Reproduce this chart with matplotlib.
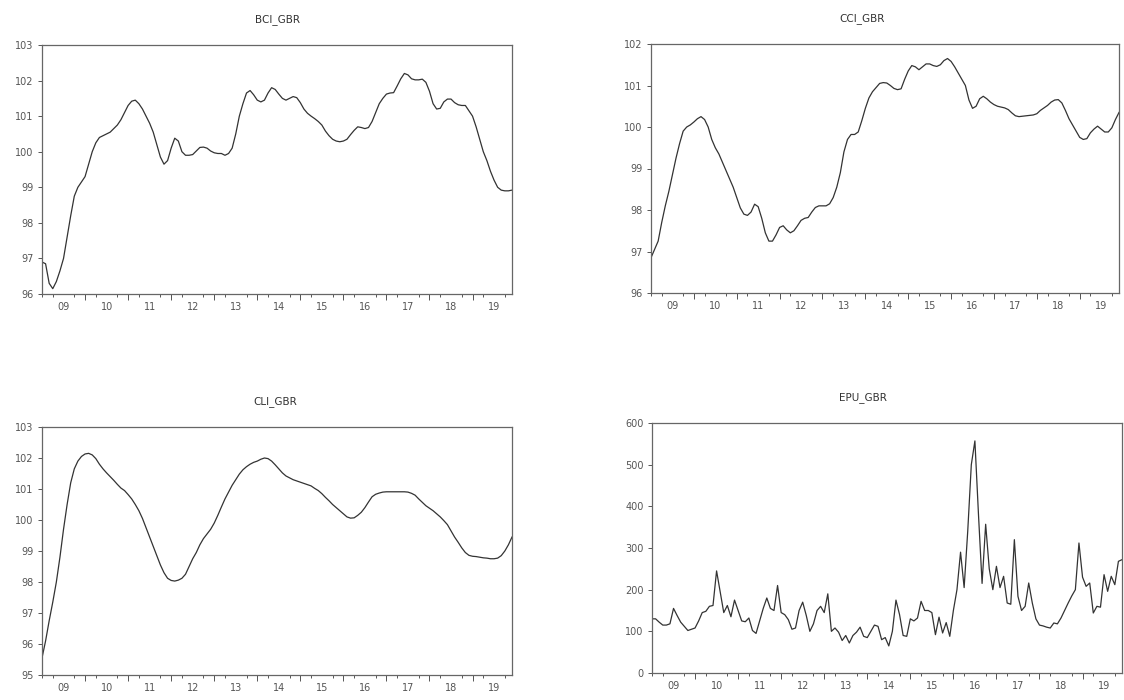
import matplotlib as mpl
mpl.use('Agg')
import matplotlib.pyplot as plt
import numpy as np

# monthly observations 2009M01 - 2019M12
bci_gbr = [
    96.9, 96.85, 96.3, 96.15, 96.35, 96.65, 97.0, 97.6, 98.2, 98.75, 99.0, 99.15,
    99.3, 99.65, 100.0, 100.25, 100.4, 100.45, 100.5, 100.55, 100.65, 100.75, 100.9, 101.1,
    101.3, 101.42, 101.45, 101.35, 101.2, 101.0, 100.8, 100.55, 100.2, 99.85, 99.65, 99.75,
    100.1, 100.38, 100.3, 100.0, 99.9, 99.9, 99.92, 100.02, 100.12, 100.13, 100.1, 100.02,
    99.97, 99.95, 99.95, 99.9, 99.95, 100.1, 100.5, 101.0, 101.35, 101.65, 101.72, 101.6,
    101.45, 101.4, 101.45, 101.65, 101.8, 101.75, 101.62, 101.5, 101.45, 101.5, 101.55, 101.52,
    101.38, 101.2, 101.08, 101.0, 100.93, 100.85, 100.75, 100.58, 100.45, 100.35, 100.3, 100.28,
    100.3, 100.35, 100.48, 100.6, 100.7, 100.68, 100.65, 100.68, 100.85, 101.1, 101.35, 101.5,
    101.62, 101.65, 101.66, 101.85, 102.05, 102.2, 102.16, 102.05, 102.02, 102.02, 102.04, 101.95,
    101.7, 101.35, 101.2, 101.22, 101.4, 101.48, 101.48, 101.38, 101.32, 101.3, 101.3, 101.15,
    101.0, 100.7, 100.35, 100.0, 99.75, 99.45, 99.2, 99.0, 98.92, 98.9, 98.9, 98.92,
]

cci_gbr = [
    96.85, 97.05, 97.25, 97.7, 98.1, 98.45, 98.85, 99.25, 99.6, 99.9, 100.0, 100.05,
    100.12, 100.2, 100.25, 100.18, 100.0, 99.7, 99.5, 99.35, 99.15, 98.95, 98.75, 98.55,
    98.3, 98.05, 97.9, 97.87, 97.95, 98.14, 98.08, 97.8, 97.45, 97.25, 97.25, 97.4,
    97.58, 97.62, 97.52, 97.45, 97.5, 97.62, 97.75, 97.8, 97.82, 97.95, 98.06, 98.1,
    98.1, 98.1, 98.15, 98.3, 98.55, 98.9, 99.4, 99.7, 99.82, 99.82, 99.88, 100.15,
    100.45, 100.7, 100.85, 100.95, 101.05, 101.07, 101.06, 101.0, 100.93, 100.9, 100.92, 101.15,
    101.35, 101.48, 101.45, 101.38, 101.45, 101.52, 101.52, 101.48, 101.46, 101.5, 101.6, 101.65,
    101.58, 101.45, 101.3, 101.15, 101.0, 100.65, 100.45, 100.5, 100.68, 100.74, 100.68, 100.6,
    100.54, 100.5, 100.48, 100.46, 100.42, 100.34, 100.27, 100.25, 100.26, 100.27, 100.28, 100.29,
    100.32, 100.4, 100.46, 100.52, 100.6, 100.65, 100.66, 100.58, 100.4, 100.2, 100.05, 99.9,
    99.75, 99.7, 99.72, 99.86, 99.95, 100.02, 99.95, 99.88, 99.88, 99.98, 100.18, 100.35,
]

cli_gbr = [
    95.55, 96.1, 96.75, 97.35, 98.0, 98.8, 99.7, 100.5, 101.2, 101.65, 101.9, 102.05,
    102.13, 102.15, 102.1, 101.98, 101.8, 101.65, 101.52, 101.4, 101.28, 101.15, 101.03, 100.95,
    100.82, 100.68, 100.5, 100.3, 100.05, 99.75, 99.45, 99.15, 98.85, 98.55, 98.3, 98.12,
    98.05, 98.03, 98.06, 98.12, 98.25, 98.5, 98.75, 98.95, 99.2, 99.4, 99.55, 99.7,
    99.9, 100.15, 100.42, 100.68, 100.9, 101.12, 101.3, 101.48, 101.62, 101.72, 101.8, 101.86,
    101.9, 101.96, 102.0, 101.98, 101.9, 101.78, 101.65, 101.52, 101.42, 101.36, 101.3, 101.26,
    101.22, 101.18, 101.14, 101.1, 101.02, 100.95, 100.85, 100.73, 100.62, 100.5, 100.4, 100.3,
    100.2, 100.1, 100.06, 100.07, 100.15, 100.25, 100.4, 100.58, 100.75, 100.83, 100.87, 100.9,
    100.91, 100.91, 100.91, 100.91, 100.91, 100.91, 100.9, 100.86, 100.8, 100.68, 100.57, 100.46,
    100.38, 100.3, 100.2, 100.1, 99.98, 99.85, 99.65, 99.45, 99.28, 99.1, 98.95, 98.86,
    98.83, 98.82, 98.8, 98.78, 98.77, 98.75, 98.75, 98.77, 98.85, 99.0, 99.2, 99.45,
]

epu_gbr = [
    130, 130, 122, 115, 115, 118, 155, 138, 122, 112, 102, 105,
    108, 125, 145, 148, 160, 162, 245, 195, 145, 162, 135, 175,
    150, 125, 123, 132, 102, 95, 125, 155, 180, 155, 150, 210,
    145, 140, 128, 105, 108, 150, 170, 138, 100, 118, 150, 160,
    145, 190, 100, 108, 98, 78, 90, 72, 90, 98, 110, 88,
    85, 100, 115, 112, 80, 85, 65, 100, 175, 140, 90, 88,
    130, 125, 132, 172, 150, 150, 145, 92, 134, 96, 121, 88,
    150, 200, 290, 205, 340, 500, 557, 380, 215, 357, 250, 200,
    256, 205, 232, 168, 165, 320, 184, 150, 160, 216, 168, 130,
    115, 113, 110, 108, 120, 118, 132, 150, 168, 185, 200, 312,
    230, 208, 216, 144, 160, 158, 236, 196, 232, 212, 268, 272,
]

titles = ['BCI_GBR', 'CCI_GBR', 'CLI_GBR', 'EPU_GBR']
series = [bci_gbr, cci_gbr, cli_gbr, epu_gbr]
year_labels = ['09', '10', '11', '12', '13', '14', '15', '16', '17', '18', '19']
ylims = [(96, 103), (96, 102), (95, 103), (0, 600)]
ysteps = [1, 1, 1, 100]

W, H = 1124, 700
# axes boxes in pixels: left, right, top, bottom
boxes = [(42, 512, 45, 294), (651, 1119, 44, 293),
         (42, 512, 427, 675), (652, 1122, 423, 673)]
title_pos = [(277, 20), (862, 19), (275, 402), (863, 398)]

plt.rcParams['font.family'] = ['DejaVu Sans']
fig = plt.figure(figsize=(W / 100, H / 100), dpi=100)
fig.patch.set_facecolor('white')

grey = '#555555'
x = 2009 + np.arange(132) / 12.0

for vals, title, ylim, ystep, box, tp in zip(series, titles, ylims, ysteps,
                                              boxes, title_pos):
    l, r, t, b = box
    ax = fig.add_axes([l / W, 1 - b / H, (r - l) / W, (b - t) / H])
    ax.plot(x, vals, color='#333333', lw=0.9)
    ax.set_xlim(x[0], x[-1])
    ax.set_ylim(*ylim)
    for s in ax.spines.values():
        s.set_color('#666666')
        s.set_linewidth(0.9)

    ax.set_yticks(np.arange(ylim[0], ylim[1] + ystep / 2, ystep))
    ax.tick_params(axis='y', direction='out', length=3, width=0.7,
                   colors=grey, labelsize=7, pad=3)

    # year labels at mid-year, no tick mark
    ax.set_xticks(2009.5 + np.arange(len(year_labels)), year_labels)
    ax.tick_params(axis='x', which='major', length=0, pad=6,
                   labelsize=7, labelcolor=grey)
    ax.set_xticks(np.arange(2009, 2020, 0.25), minor=True)
    ax.tick_params(axis='x', which='minor', direction='out', length=2.5,
                   width=0.7, color=grey)
    # longer ticks at year starts
    sec = ax.secondary_xaxis('bottom')
    sec.set_xticks(np.arange(2010, 2020), [''] * 10)
    sec.tick_params(direction='out', length=4.5, width=0.7, color=grey)
    sec.spines['bottom'].set_visible(False)

    fig.text(tp[0] / W, 1 - tp[1] / H, title, ha='center', va='center',
             fontsize=7.5, color='#333333')

fig.savefig('out.png', dpi=100, facecolor='white')
